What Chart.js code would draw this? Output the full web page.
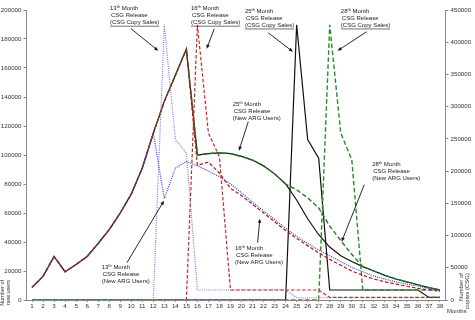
<!DOCTYPE html>
<html>
<head>
<meta charset="utf-8">
<title>CSG Release</title>
<script src="https://cdn.jsdelivr.net/npm/chart.js"></script>
<style>
  body { margin: 0; background: #fff; }
</style>
</head>
<body>
<canvas id="csg-chart" width="475" height="320"></canvas>
<script>
// months on the x axis
const months = ['1','2','3','4','5','6','7','8','9','10','11','12','13','14','15','16','17','18','19',
  '20','21','22','23','24','25','26','27','28','29','30','31','32','33','34','35','36','37','38'];

// new ARG users (left axis)
const newUsers13 = [8700,16300,30000,19500,24500,30000,39000,48500,60000,73000,91000,115000,
  70000,91000,95500,92500,89000,85000,80000,74000,67500,61500,55500,49500,44000,39000,34500,
  30500,26500,22500,19500,16500,14500,12500,11000,9500,8000,7000];
const newUsers16 = [8700,16300,30000,19500,24500,30000,39000,48500,60000,73000,91000,115000,137000,155000,173000,
  93000,95000,87500,77000,72000,66000,60000,54000,48000,42500,37500,32500,28000,24000,20000,17000,
  14500,12500,11000,9500,8000,7000,6000];
const newUsers25 = [8700,16300,30000,19500,24500,30000,39000,48500,60000,73000,91000,115000,137000,155000,173000,
  100000,101000,101500,101000,99000,96500,92500,87000,80000,
  69000,56000,45000,36500,30500,26500,23000,20000,17000,14500,12500,10500,8500,7000];
const newUsers28 = [8700,16300,30000,19500,24500,30000,39000,48500,60000,73000,91000,115000,137000,155000,173000,
  100000,101000,101500,101000,99000,96500,92500,87000,80000,
  76000,70500,63500,51000,41000,31500,23000,20000,17000,14500,12500,10500,8500,7000];

// CSG copy sales (right axis)
const copies13 = [0,0,0,0,0,0,0,0,0,0,0,0,427000,249000,228000,
  15500,15500,15500,15500,15500,15500,15500,15500,15500,
  3500,3500,3500,3500,3500,3500,3500,3500,3500,3500,3500,3500,3500,3500];
const copies16 = [0,0,0,0,0,0,0,0,0,0,0,0,0,0,0,427000,259000,222000,
  15500,15500,15500,15500,15500,15500,15500,15500,15500,
  4000,4000,4000,4000,4000,4000,4000,4000,4000,4000,4000];
const copies25 = [0,0,0,0,0,0,0,0,0,0,0,0,0,0,0,0,0,0,0,0,0,0,0,0,427000,249000,220000,
  15500,15500,15500,15500,15500,15500,15500,15500,15500,4000,4000];
const copies28 = [0,0,0,0,0,0,0,0,0,0,0,0,0,0,0,0,0,0,0,0,0,0,0,0,0,0,0,427000,259000,218000,
  15500,15500,15500,15500,15500,15500,15500,15500];

// text boxes with arrows: [month, left-axis value] anchors
const notes = [
  { num: '13', kind: '(CSG Copy Sales)', underline: true, at: [8.07, 200900], arrow: [9.98, 187100, 12.45, 171900] },
  { num: '16', kind: '(CSG Copy Sales)', underline: true, at: [15.41, 200900], arrow: [17.53, 187100, 16.84, 173300] },
  { num: '25', kind: '(CSG Copy Sales)', underline: true, at: [20.31, 199000], arrow: [22.42, 184300, 24.66, 171200] },
  { num: '28', kind: '(CSG Copy Sales)', underline: true, at: [29.01, 199000], arrow: [31.34, 185000, 28.71, 171900] },
  { num: '25', kind: '(New ARG Users)', underline: false, at: [19.2, 135200], arrow: [20.61, 123000, 19.77, 103000] },
  { num: '16', kind: '(New ARG Users)', underline: false, at: [19.4, 35900], arrow: [21.46, 39500, 21.67, 56100] },
  { num: '13', kind: '(New ARG Users)', underline: false, at: [7.32, 22800], arrow: [9.61, 25700, 12.97, 68500] },
  { num: '28', kind: '(New ARG Users)', underline: false, at: [31.85, 93300], arrow: [31.13, 79500, 29.08, 40200] }
];

const FONT = '"Liberation Sans", Arial, sans-serif';
Chart.defaults.font.family = FONT;
Chart.defaults.color = '#333';

const notesPlugin = {
  id: 'notes',
  afterDraw(chart) {
    const ctx = chart.ctx;
    const xs = chart.scales.x, ys = chart.scales.y;
    const px = m => xs.getPixelForValue(m - 1);
    const py = v => ys.getPixelForValue(v);
    ctx.save();
    ctx.fillStyle = '#222';
    ctx.strokeStyle = '#111';
    ctx.textBaseline = 'middle';
    ctx.textAlign = 'left';
    notes.forEach(n => {
      const tx = px(n.at[0]), ty = py(n.at[1]);
      let cx = tx;
      ctx.font = '6px ' + FONT;
      ctx.fillText(n.num, cx, ty);
      cx += ctx.measureText(n.num).width;
      ctx.font = '4px ' + FONT;
      ctx.fillText('th', cx, ty - 1.5);
      cx += ctx.measureText('th').width;
      ctx.font = '6px ' + FONT;
      ctx.fillText(' Month', cx, ty);
      ctx.fillText('CSG Release', tx + 1, ty + 7);
      ctx.fillText(n.kind, tx, ty + 14);
      if (n.underline) {
        const w = ctx.measureText(n.kind).width;
        ctx.lineWidth = 0.6;
        ctx.beginPath();
        ctx.moveTo(tx, ty + 17.5);
        ctx.lineTo(tx + w, ty + 17.5);
        ctx.stroke();
      }
      // arrow
      const x1 = px(n.arrow[0]), y1 = py(n.arrow[1]);
      const x2 = px(n.arrow[2]), y2 = py(n.arrow[3]);
      const a = Math.atan2(y2 - y1, x2 - x1);
      ctx.lineWidth = 0.9;
      ctx.beginPath();
      ctx.moveTo(x1, y1);
      ctx.lineTo(x2 - Math.cos(a) * 3, y2 - Math.sin(a) * 3);
      ctx.stroke();
      ctx.beginPath();
      ctx.moveTo(x2, y2);
      ctx.lineTo(x2 - 4.5 * Math.cos(a - 0.4), y2 - 4.5 * Math.sin(a - 0.4));
      ctx.lineTo(x2 - 4.5 * Math.cos(a + 0.4), y2 - 4.5 * Math.sin(a + 0.4));
      ctx.closePath();
      ctx.fillStyle = '#111';
      ctx.fill();
      ctx.fillStyle = '#222';
    });

    // axis titles
    ctx.fillStyle = '#333';
    ctx.font = '5.5px ' + FONT;
    ctx.save();
    ctx.translate(2.5, 280);
    ctx.rotate(-Math.PI / 2);
    ctx.textAlign = 'right';
    ctx.fillText('Number of', 0, 0);
    ctx.fillText('new users', 0, 6);
    ctx.restore();

    ctx.save();
    ctx.translate(461, 273);
    ctx.rotate(-Math.PI / 2);
    ctx.textAlign = 'right';
    ctx.font = '6px ' + FONT;
    ctx.fillText('Number of', 0, 0);
    ctx.fillText('copies (CSG)', 0, 6.5);
    ctx.restore();

    ctx.font = '6px ' + FONT;
    ctx.textAlign = 'left';
    ctx.fillText('Months', 447, 311.5);
    ctx.restore();
  }
};

const line = (data, color, dash, axis, width) => ({
  data: data,
  yAxisID: axis,
  borderColor: color,
  borderDash: dash,
  borderWidth: width || 1.2,
  pointRadius: 0,
  fill: false,
  tension: 0
});

new Chart(document.getElementById('csg-chart'), {
  type: 'line',
  data: {
    labels: months,
    datasets: [
      line(newUsers16, '#b01818', [3.5, 2], 'y'),
      line(copies16, '#c82828', [3.5, 2], 'y1'),
      line(newUsers13, '#3a3ad0', [1, 1.2], 'y'),
      line(copies13, '#7a7ae6', [1, 1.2], 'y1'),
      line(newUsers28, '#1e7e1e', [4.5, 2.5], 'y', 1.4),
      line(copies28, '#2a8a2a', [4.5, 2.5], 'y1', 1.4),
      line(newUsers25, '#111111', [], 'y'),
      line(copies25, '#111111', [], 'y1')
    ]
  },
  options: {
    responsive: false,
    animation: false,
    devicePixelRatio: 1,
    layout: { padding: { top: 10, left: 0, right: 0, bottom: 0 } },
    plugins: { legend: { display: false }, tooltip: { enabled: false } },
    scales: {
      x: {
        offset: true,
        grid: { drawOnChartArea: false, drawTicks: true, tickLength: 2, color: '#888' },
        border: { color: '#888' },
        ticks: { font: { size: 6.2 }, maxRotation: 0, autoSkip: false, padding: 1 },
        afterFit: s => { s.height = 20; }
      },
      y: {
        position: 'left',
        min: 0,
        max: 200000,
        grid: { drawOnChartArea: false, tickLength: 3, color: '#888' },
        border: { color: '#888' },
        ticks: { stepSize: 20000, font: { size: 6.2 }, padding: 2, callback: v => String(v) },
        afterFit: s => { s.width = 26.5; }
      },
      y1: {
        position: 'right',
        min: 0,
        max: 450000,
        grid: { drawOnChartArea: false, tickLength: 3, color: '#888' },
        border: { color: '#888' },
        ticks: { stepSize: 50000, font: { size: 6.2 }, padding: 2, callback: v => String(v) },
        afterFit: s => { s.width = 29.5; }
      }
    }
  },
  plugins: [notesPlugin]
});
</script>
</body>
</html>
